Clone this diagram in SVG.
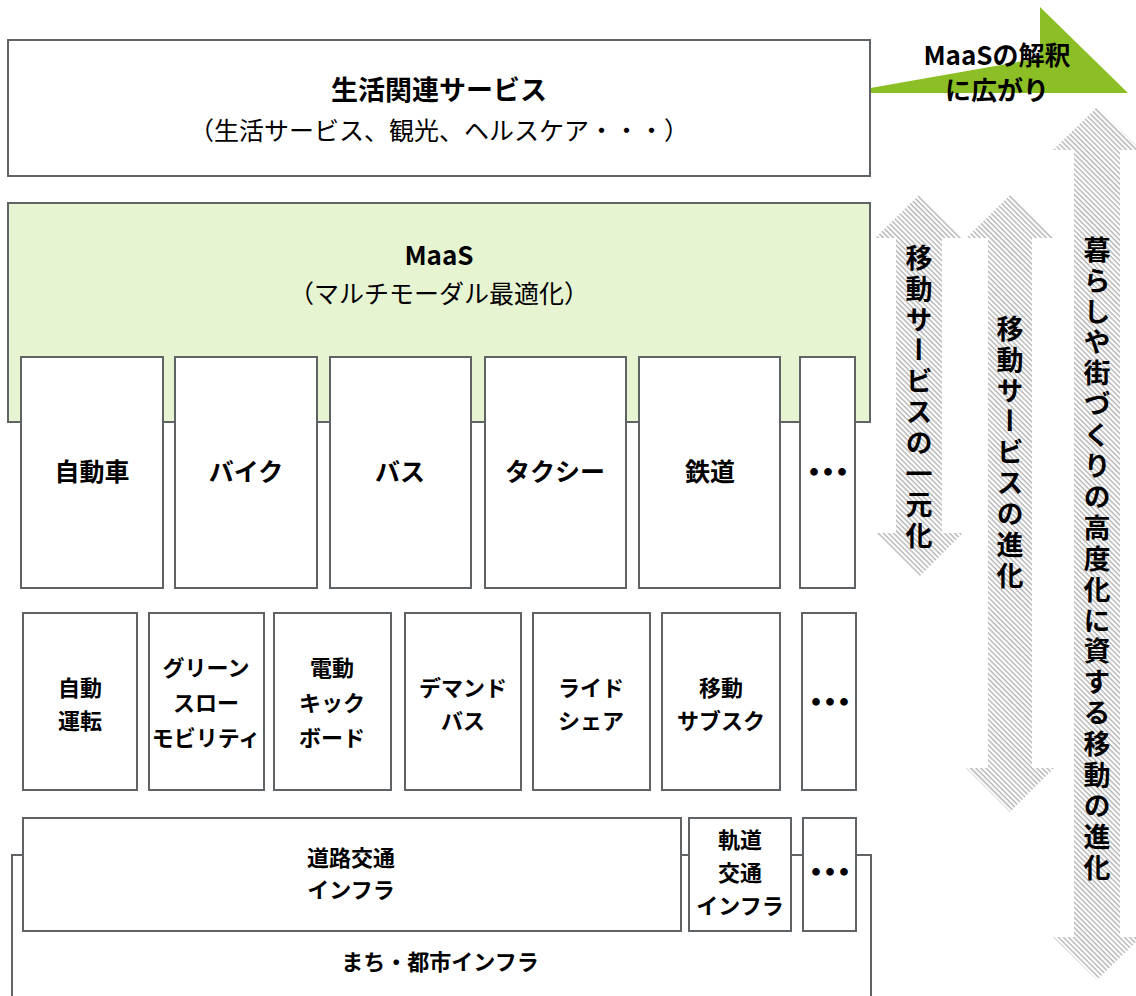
<svg xmlns="http://www.w3.org/2000/svg" width="1136" height="996" viewBox="0 0 1136 996">
<style>
.box{fill:#fff;stroke:#5f6366;stroke-width:2}
.green{fill:#e6f4d2;stroke:#5f6366;stroke-width:2}
.t{font-family:"Noto Sans CJK JP","Noto Sans",sans-serif;fill:#000;text-anchor:middle}
.b{font-weight:bold}
.n{font-weight:normal}
.lbl{font-size:25px;font-weight:bold}
.lbl2{font-size:22px;font-weight:bold}
.dots{font-size:30px;font-weight:bold;letter-spacing:-16px}
.vt{font-family:"Noto Sans CJK JP",sans-serif;font-weight:bold;font-size:27px;fill:#000;writing-mode:vertical-rl;letter-spacing:3.9px}
.hatch{fill:url(#hatch)}
</style>
<defs>
<pattern id="hatch" width="3.6" height="3.6" patternUnits="userSpaceOnUse" patternTransform="rotate(45)">
<rect width="3.6" height="3.6" fill="#fff"/>
<rect width="3.6" height="1.4" fill="#b4b4b4"/>
</pattern>
</defs>

<g id="arrows">
<polygon class="hatch" points="919,195 963,238 942,238 942,533 963,533 919,577 875,533 896,533 896,238 875,238"/>
<polygon class="hatch" points="1010,195 1054,238 1032,238 1032,768 1054,768 1010,812 966,768 988,768 988,238 966,238"/>
<polygon class="hatch" points="1097,107 1141,150 1120,150 1120,937 1141,937 1097,980 1053,937 1074,937 1074,150 1053,150"/>
</g>

<g id="expansion">
<polygon points="842,93 1040,58 1040,7 1128,93" fill="#8cbf26"/>
<text class="t b" x="997" y="65" font-size="26">MaaSの解釈</text>
<text class="t b" x="997" y="100" font-size="26">に広がり</text>
</g>

<g id="node-life">
<rect class="box" x="8" y="40" width="862" height="136"/>
<text class="t b" x="439" y="100" font-size="27">生活関連サービス</text>
<text class="t n" x="439" y="140" font-size="25">（生活サービス、観光、ヘルスケア・・・）</text>
</g>

<g id="node-maas">
<rect class="green" x="8" y="203" width="862" height="219"/>
<text class="t b" x="439" y="265" font-size="26">MaaS</text>
<text class="t n" x="439" y="303" font-size="25">（マルチモーダル最適化）</text>
</g>

<g id="row1">
<g id="n-car"><rect class="box" x="21" y="357" width="142" height="231"/><text class="t lbl" x="92" y="481">自動車</text></g>
<g id="n-bike"><rect class="box" x="175" y="357" width="142" height="231"/><text class="t lbl" x="246" y="481">バイク</text></g>
<g id="n-bus"><rect class="box" x="330" y="357" width="141" height="231"/><text class="t lbl" x="400" y="481">バス</text></g>
<g id="n-taxi"><rect class="box" x="485" y="357" width="141" height="231"/><text class="t lbl" x="555" y="481">タクシー</text></g>
<g id="n-rail"><rect class="box" x="639" y="357" width="141" height="231"/><text class="t lbl" x="710" y="481">鉄道</text></g>
<g id="n-etc1"><rect class="box" x="800" y="357" width="55" height="231"/><text class="t dots" x="820" y="483">・・・</text></g>
</g>

<g id="row2">
<g id="n-auto"><rect class="box" x="23" y="613" width="114" height="177"/><text class="t lbl2" x="80" y="696" font-size="24">自動</text><text class="t lbl2" x="80" y="729" font-size="24">運転</text></g>
<g id="n-gsm"><rect class="box" x="149" y="613" width="115" height="177"/><text class="t lbl2" x="206" y="676">グリーン</text><text class="t lbl2" x="206" y="711">スロー</text><text class="t lbl2" x="206" y="746">モビリティ</text></g>
<g id="n-kick"><rect class="box" x="274" y="613" width="117" height="177"/><text class="t lbl2" x="332" y="676">電動</text><text class="t lbl2" x="332" y="711">キック</text><text class="t lbl2" x="332" y="746">ボード</text></g>
<g id="n-demand"><rect class="box" x="405" y="613" width="116" height="177"/><text class="t lbl2" x="463" y="696">デマンド</text><text class="t lbl2" x="463" y="729">バス</text></g>
<g id="n-ride"><rect class="box" x="533" y="613" width="117" height="177"/><text class="t lbl2" x="591" y="696">ライド</text><text class="t lbl2" x="591" y="729">シェア</text></g>
<g id="n-sub"><rect class="box" x="662" y="613" width="118" height="177"/><text class="t lbl2" x="721" y="696">移動</text><text class="t lbl2" x="721" y="729">サブスク</text></g>
<g id="n-etc2"><rect class="box" x="802" y="613" width="54" height="177"/><text class="t dots" x="822" y="713">・・・</text></g>
</g>

<g id="infra">
<g id="n-city"><rect class="box" x="12" y="855" width="859" height="200"/><text class="t lbl2" x="440" y="970">まち・都市インフラ</text></g>
<g id="n-road"><rect class="box" x="23" y="818" width="658" height="113"/><text class="t lbl2" x="351" y="866">道路交通</text><text class="t lbl2" x="351" y="898">インフラ</text></g>
<g id="n-railinfra"><rect class="box" x="689" y="818" width="102" height="113"/><text class="t lbl2" x="740" y="848">軌道</text><text class="t lbl2" x="740" y="881">交通</text><text class="t lbl2" x="740" y="914">インフラ</text></g>
<g id="n-etc3"><rect class="box" x="803" y="818" width="53" height="113"/><text class="t dots" x="822" y="883">・・・</text></g>
</g>

<g id="arrow-labels">
<text class="vt" x="919" y="244">移動サービスの一元化</text>
<text class="vt" x="1010" y="315">移動サービスの進化</text>
<text class="vt" x="1097" y="236">暮らしや街づくりの高度化に資する移動の進化</text>
</g>
</svg>
